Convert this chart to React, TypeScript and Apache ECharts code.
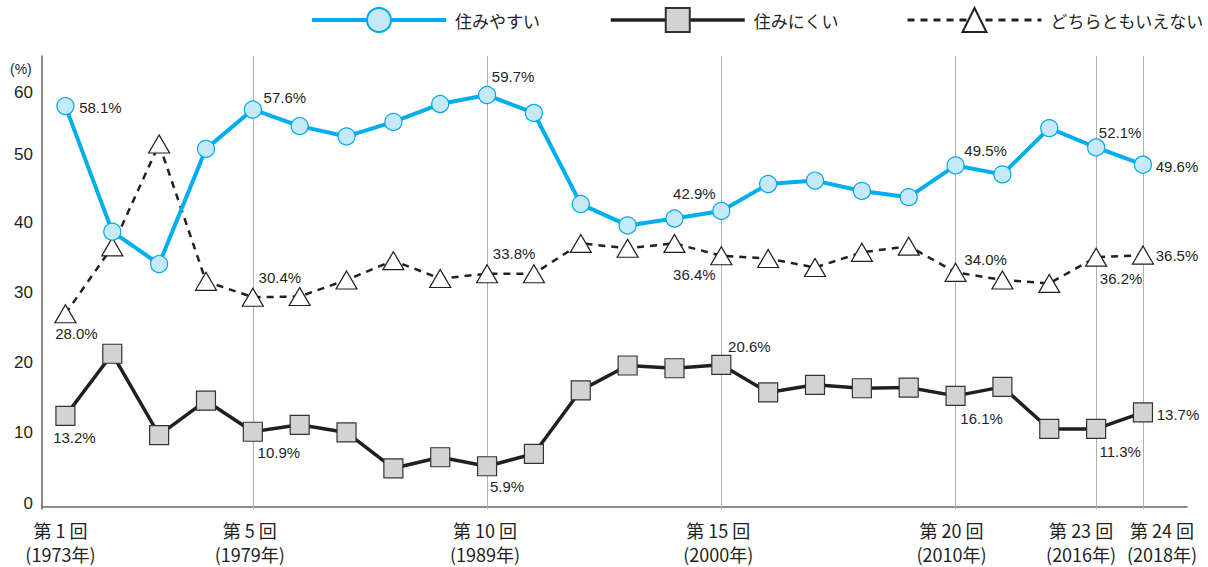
import React, { useEffect, useRef } from "react";
import * as echarts from "echarts";

// survey rounds 第1回 … 第24回
const rounds = [1, 2, 3, 4, 5, 6, 7, 8, 9, 10, 11, 12, 13, 14, 15, 16, 17, 18, 19, 20, 21, 22, 23, 24];
const seriesNames = ["住みやすい", "住みにくい", "どちらともいえない"];
const liveable = [58.1, 39.9, 35.2, 51.9, 57.6, 55.2, 53.7, 55.8, 58.4, 59.7, 57.1, 43.9, 40.8, 41.8, 42.9, 46.8, 47.3, 45.8, 44.9, 49.5, 48.2, 54.9, 52.1, 49.6];
const unliveable = [13.2, 22.2, 10.4, 15.4, 10.9, 11.9, 10.8, 5.6, 7.2, 5.9, 7.7, 16.9, 20.5, 20.1, 20.6, 16.6, 17.7, 17.2, 17.3, 16.1, 17.4, 11.3, 11.3, 13.7];
const neither = [28.0, 37.7, 52.6, 32.7, 30.4, 30.5, 32.9, 35.7, 33.1, 33.8, 33.8, 38.2, 37.5, 38.2, 36.4, 36.0, 34.7, 36.9, 37.8, 34.0, 32.9, 32.4, 36.2, 36.5];
const labeledRounds = [1, 5, 10, 15, 20, 23, 24];
const roundLabels = ["第 1 回", "第 5 回", "第 10 回", "第 15 回", "第 20 回", "第 23 回", "第 24 回"];
const yearLabels = ["(1973年)", "(1979年)", "(1989年)", "(2000年)", "(2010年)", "(2016年)", "(2018年)"];
const gridRounds = [5, 10, 15, 20, 23, 24];
const yTicks = [0, 10, 20, 30, 40, 50, 60];

// ---- layout / style tweaks (not data) ----
// horizontal shift (px) of each x-axis label, same order as labeledRounds
const xLabelShift = [-5, -3, -2, -3, -4, -15, 19];
// upward shift (px) of each y-axis label, same order as yTicks
const yLabelLift = [3, 5, 6, 7, 8, 7, 0];
// label offsets (text centre relative to the marker), keyed by round
const liveableLabelOffsets: Record<number, number[]> = {
  1: [35, 1], 5: [32, -12], 10: [26, -19], 15: [-27, -17], 20: [30, -15], 23: [24, -15], 24: [34, 2],
};
const unliveableLabelOffsets: Record<number, number[]> = {
  1: [9, 22], 5: [26, 21], 10: [20, 20], 15: [28, -18], 20: [26, 23], 23: [24, 23], 24: [35, 2],
};
const neitherLabelOffsets: Record<number, number[]> = {
  1: [11, 20], 5: [27, -20], 10: [27, -20], 15: [-27, 19], 20: [30, -13], 23: [25, 21], 24: [34, 0],
};
const legendLefts = [305, 604, 901];

const TEXT = "#231f20";
const BLUE = "#00aeef";
const NUM_FONT = "'Liberation Sans', 'Noto Sans CJK JP', sans-serif";
const JP_FONT = "'Noto Sans CJK JP', 'Liberation Sans', sans-serif";

function buildData(values: number[], offsets: Record<number, number[]>) {
  return rounds.map((r, i) => {
    const item: any = { value: [r, values[i]] };
    if (offsets[r]) {
      item.label = {
        show: true,
        position: "inside",
        offset: offsets[r],
        align: "center",
        verticalAlign: "middle",
        formatter: values[i].toFixed(1) + "%",
        color: TEXT,
        fontSize: 15,
        fontFamily: NUM_FONT,
      };
    }
    return item;
  });
}

const xRich: Record<string, any> = {};
xLabelShift.forEach((s, k) => {
  xRich["s" + k] = {
    fontSize: 18,
    lineHeight: 24,
    color: TEXT,
    fontFamily: JP_FONT,
    padding: s < 0 ? [0, -2 * s, 0, 0] : [0, 0, 0, 2 * s],
  };
});
const yRich: Record<string, any> = {};
yLabelLift.forEach((s, k) => {
  yRich["y" + k] = {
    fontSize: 17,
    color: TEXT,
    fontFamily: NUM_FONT,
    padding: [0, 0, 2 * s, 0],
  };
});

const seriesStyles = [
  { lineStyle: { color: BLUE, width: 4 }, itemStyle: { color: "#c6e9f9", borderColor: "#00a9e8", borderWidth: 1.2 } },
  { lineStyle: { color: TEXT, width: 3.5 }, itemStyle: { color: "#d3d3d3", borderColor: "#333", borderWidth: 1.2 } },
  { lineStyle: { color: TEXT, width: 3, type: [7, 6] }, itemStyle: { color: "#ffffff", borderColor: TEXT, borderWidth: 1.2 } },
];

function xAxisFor(values: number[], showLine: boolean) {
  return {
    type: "value",
    position: "bottom",
    min: 0.5,
    max: 24.94,
    axisLine: { show: showLine, lineStyle: { color: "#666", width: 1.5 } },
    axisTick: { show: false },
    splitLine: { show: false },
    axisLabel: {
      customValues: values,
      hideOverlap: false,
      margin: 9,
      fontSize: 18,
      lineHeight: 24,
      color: TEXT,
      fontFamily: JP_FONT,
      formatter: (v: number) => {
        const k = labeledRounds.indexOf(Math.round(v));
        return k >= 0 ? `{s${k}|${roundLabels[k]}}\n{s${k}|${yearLabels[k]}}` : "";
      },
      rich: xRich,
    },
  };
}

export default function App() {
  const ref = useRef<HTMLDivElement>(null);
  useEffect(() => {
    document.body.style.margin = "0";
    if (!ref.current) return;
    const chart = echarts.init(ref.current, undefined, { renderer: "svg" });
    const option: any = {
      animation: false,
      backgroundColor: "#ffffff",
      legend: seriesNames.map((name, k) => ({
        left: legendLefts[k],
        top: 2,
        itemWidth: 134,
        itemHeight: 30,
        textStyle: { fontSize: 17, color: TEXT, fontFamily: JP_FONT, padding: [0, 0, 0, 4] },
        data: [{ name, lineStyle: { width: seriesStyles[k].lineStyle.width } }],
      })),
      grid: { left: 42, right: 21, top: 56, bottom: 58 },
      xAxis: [
        xAxisFor(labeledRounds.slice(0, 6), true),
        xAxisFor(labeledRounds.slice(6), false),
      ],
      yAxis: {
        type: "value",
        min: -0.3,
        max: 65.36,
        axisLine: { show: true, lineStyle: { color: "#666", width: 1.5 } },
        axisTick: { show: false },
        splitLine: { show: false },
        axisLabel: {
          customValues: yTicks,
          hideOverlap: false,
          margin: 9,
          fontSize: 17,
          color: TEXT,
          fontFamily: NUM_FONT,
          formatter: (v: number) => {
            const k = yTicks.indexOf(Math.round(v));
            return k >= 0 ? `{y${k}|${yTicks[k]}}` : "";
          },
          rich: yRich,
        },
      },
      graphic: [
        {
          type: "text",
          left: 10,
          top: 62,
          style: { text: "(%)", fontSize: 14, fill: TEXT, fontFamily: NUM_FONT },
        },
      ],
      series: [
        {
          name: seriesNames[2],
          type: "line",
          z: 2,
          data: buildData(neither, neitherLabelOffsets),
          symbol: "triangle",
          symbolSize: [21, 18],
          lineStyle: { ...seriesStyles[2].lineStyle, width: 2.5 },
          itemStyle: seriesStyles[2].itemStyle,
          label: { show: false },
          markLine: {
            silent: true,
            z: 1,
            symbol: "none",
            label: { show: false },
            lineStyle: { color: "#b0b0b0", width: 1, type: "solid" },
            data: gridRounds.map((r) => ({ xAxis: r })),
          },
        },
        {
          name: seriesNames[1],
          type: "line",
          z: 3,
          data: buildData(unliveable, unliveableLabelOffsets),
          symbol: "rect",
          symbolSize: 19,
          lineStyle: seriesStyles[1].lineStyle,
          itemStyle: seriesStyles[1].itemStyle,
          label: { show: false },
        },
        {
          name: seriesNames[0],
          type: "line",
          z: 4,
          data: buildData(liveable, liveableLabelOffsets),
          symbol: "circle",
          symbolSize: 17,
          lineStyle: seriesStyles[0].lineStyle,
          itemStyle: seriesStyles[0].itemStyle,
          label: { show: false },
        },
      ],
    };
    chart.setOption(option);
    return () => chart.dispose();
  }, []);
  return <div ref={ref} style={{ width: 1208, height: 567 }} />;
}
